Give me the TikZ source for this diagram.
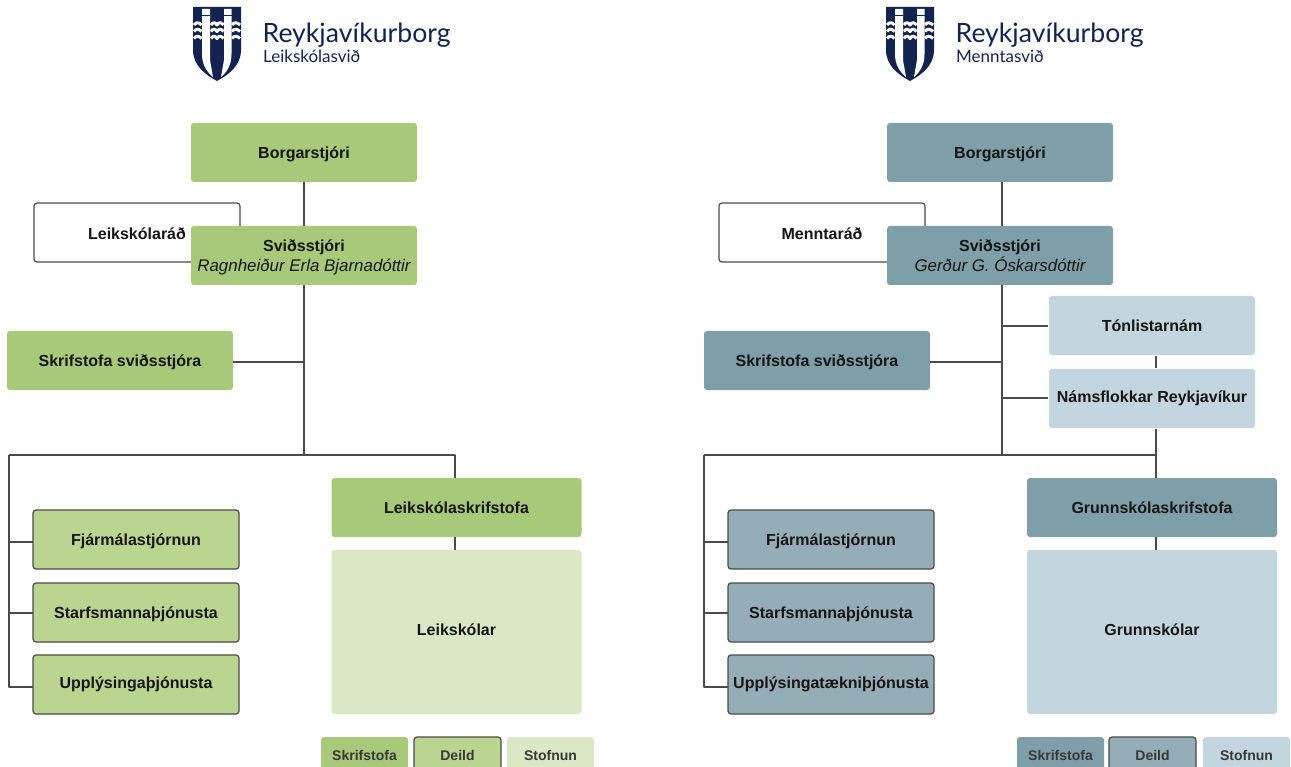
\documentclass[tikz,border=0pt]{standalone}
\usepackage{fontspec}
\setmainfont{Liberation Sans}
\newfontfamily\logofont{Lato}
\definecolor{navy}{HTML}{14224F}
\definecolor{linecol}{HTML}{4A4A4A}
\definecolor{txtcol}{HTML}{151515}
\definecolor{grA}{HTML}{A8C97A}
\definecolor{grB}{HTML}{BAD590}
\definecolor{grC}{HTML}{DBE8C6}
\definecolor{blA}{HTML}{7E9EA8}
\definecolor{blB}{HTML}{95ADB7}
\definecolor{blC}{HTML}{C3D5DF}
\tikzset{
	box/.style={rounded corners=3pt,inner sep=0pt,align=center,text=txtcol,text depth=0pt,font=\fontsize{16}{19}\selectfont\bfseries},
	wide/.style={box,minimum width=226pt,minimum height=59pt},
	deild/.style={box,minimum width=206pt,minimum height=59pt,draw=linecol,line width=1.2pt},
	skola/.style={box,minimum width=250pt},
	legendbox/.style={box,minimum width=87pt,minimum height=36pt,text=txtcol!85,font=\fontsize{14}{17}\selectfont\bfseries},
	conn/.style={draw=linecol,line width=1.2pt},
	wave/.style={white,line width=3pt},
}
\begin{document}
\begin{tikzpicture}[x=1pt,y=-1pt,line join=round]
		\useasboundingbox (0,0) rectangle (1291,767);
		% logos
		\foreach \dx/\sub in {0/Leikskólasvið,693/Menntasvið}{
			\begin{scope}[xshift=\dx pt]
				\fill[navy] (193,7)--(241,7)--(241,50) .. controls (241,66) and (228,75) .. (217,81) .. controls (206,75) and (193,66) .. (193,50)--cycle;
				\fill[white] (202,9)--(210,9)--(210,60)--(213,77) .. controls (207,72) and (202,65) .. (202,54)--cycle;
				\fill[white] (231.5,9)--(224,9)--(224,60)--(221,77) .. controls (227,72) and (231.5,65) .. (231.5,54)--cycle;
				\draw[navy,line width=0.8pt] (202,15)--(210,15) (224,15)--(231.5,15);
				\foreach \wy in {25,31.5,38.5}{
					\draw[wave] (194,\wy) .. controls (196,\wy-3) and (199,\wy-3) .. (201.5,\wy);
					\draw[wave] (211,\wy) .. controls (213,\wy-3) and (215,\wy-3) .. (217,\wy) .. controls (219,\wy-3) and (221,\wy-3) .. (223.5,\wy);
					\draw[wave] (232,\wy) .. controls (234,\wy-3) and (237,\wy-3) .. (240,\wy);
				}
				\node[anchor=base west,inner sep=0pt,text=navy,font=\logofont\fontsize{26.6}{30}\selectfont] at (262.5,43) {Reykjavíkurborg};
				\node[anchor=base west,inner sep=0pt,text=navy,font=\logofont\fontsize{17}{20}\selectfont] at (263,63) {\sub};
			\end{scope}
		}
		% Leikskolasvid
		\node[wide,fill=grA] (borgL) at (304,152.5) {Borgarstjóri};
		\node[box,draw=linecol,line width=1.2pt,fill=white,minimum width=206pt,minimum height=59pt] (radL) at (137,232.5) {};
		\node[wide,fill=grA] (svidL) at (304,255.5) {Sviðsstjóri\\[1pt]{\mdseries\itshape\fontsize{16.9}{19}\selectfont Ragnheiður Erla Bjarnadóttir}};
		\node[box] (radtxtL) at (137,234) {Leikskólaráð};
		\node[wide,fill=grA] (skrL) at (120,360.5) {Skrifstofa sviðsstjóra};
		\node[skola,fill=grA,minimum height=59pt] (skolaskrL) at (456.5,507.5) {Leikskólaskrifstofa};
		\node[skola,fill=grC,minimum height=164pt,text depth=4pt] (skolarL) at (456.5,632) {Leikskólar};
		\node[deild,fill=grB] (fjaL) at (136,539.5) {Fjármálastjórnun};
		\node[deild,fill=grB] (staL) at (136,612.5) {Starfsmannaþjónusta};
		\node[deild,fill=grB,text depth=3pt] (uppL) at (136,684.5) {Upplýsingaþjónusta};
		\coordinate (jL) at (304,455);
		\coordinate (eL) at (9,455);
		\coordinate (vL) at (455,455);
		\coordinate (sfL) at (33,542);
		\coordinate (ssL) at (33,613);
		\coordinate (suL) at (33,687);
		\draw[conn] (borgL)--(svidL);
		\draw[conn] (svidL.south)--(jL);
		\draw[conn] (skrL.east|-0,362)--(jL|-0,362);
		\draw[conn] (eL)--(vL)--(vL|-skolaskrL.north);
		\draw[conn] (vL|-skolaskrL.south)--(vL|-skolarL.north);
		\draw[conn] (eL)--(eL|-suL)--(suL);
		\draw[conn] (sfL)--(sfL-|eL);
		\draw[conn] (ssL)--(ssL-|eL);
		\node[legendbox,fill=grA] (lgaL) at (364.5,755) {Skrifstofa};
		\node[legendbox,fill=grB,draw=linecol,line width=1.2pt] (lgbL) at (457.5,755) {Deild};
		\node[legendbox,fill=grC] (lgcL) at (550.5,755) {Stofnun};
		% Menntasvid
		\node[wide,fill=blA] (borgR) at (1000,152.5) {Borgarstjóri};
		\node[box,draw=linecol,line width=1.2pt,fill=white,minimum width=206pt,minimum height=59pt] (radR) at (822,232.5) {};
		\node[wide,fill=blA] (svidR) at (1000,255.5) {Sviðsstjóri\\[1pt]{\mdseries\itshape\fontsize{16.9}{19}\selectfont Gerður G. Óskarsdóttir}};
		\node[box] (radtxtR) at (822,234) {Menntaráð};
		\node[wide,fill=blA] (skrR) at (817,360.5) {Skrifstofa sviðsstjóra};
		\node[deild,draw=none,fill=blC] (tonR) at (1152,325.5) {Tónlistarnám};
		\node[deild,draw=none,fill=blC,text depth=3pt] (namR) at (1152,398.5) {Námsflokkar Reykjavíkur};
		\node[skola,fill=blA,minimum height=59pt] (skolaskrR) at (1152,507.5) {Grunnskólaskrifstofa};
		\node[skola,fill=blC,minimum height=164pt,text depth=4pt] (skolarR) at (1152,632) {Grunnskólar};
		\node[deild,fill=blB] (fjaR) at (831,539.5) {Fjármálastjórnun};
		\node[deild,fill=blB] (staR) at (831,612.5) {Starfsmannaþjónusta};
		\node[deild,fill=blB,text depth=3pt] (uppR) at (831,684.5) {Upplýsingatækniþjónusta};
		\coordinate (tR) at (1002,182);
		\coordinate (jR) at (1002,455);
		\coordinate (eR) at (704,455);
		\coordinate (vR) at (1156,455);
		\coordinate (sfR) at (728,542);
		\coordinate (ssR) at (728,613);
		\coordinate (suR) at (728,687);
		\draw[conn] (borgR.south-|tR)--(svidR.north-|tR);
		\draw[conn] (svidR.south-|tR)--(jR);
		\draw[conn] (skrR.east|-0,362)--(jR|-0,362);
		\draw[conn] (tonR.west|-0,326)--(jR|-0,326);
		\draw[conn] (namR.west|-0,398)--(jR|-0,398);
		\draw[conn] (tonR.south-|vR)--(namR.north-|vR);
		\draw[conn] (namR.south-|vR)--(skolaskrR.north-|vR);
		\draw[conn] (eR)--(vR);
		\draw[conn] (skolaskrR.south-|vR)--(skolarR.north-|vR);
		\draw[conn] (eR)--(eR|-suR)--(suR);
		\draw[conn] (sfR)--(sfR-|eR);
		\draw[conn] (ssR)--(ssR-|eR);
		\node[legendbox,fill=blA] (lgaR) at (1060.5,755) {Skrifstofa};
		\node[legendbox,fill=blB,draw=linecol,line width=1.2pt] (lgbR) at (1152.5,755) {Deild};
		\node[legendbox,fill=blC] (lgcR) at (1246.5,755) {Stofnun};
\end{tikzpicture}
\end{document}
